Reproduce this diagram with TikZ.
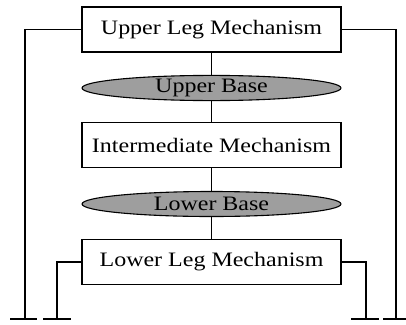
\documentclass[tikz,border=0pt]{standalone}
\usepackage{fontspec}
\setmainfont[FakeStretch=1.17]{Liberation Serif}
\usetikzlibrary{shapes.geometric}
\begin{document}
\begin{tikzpicture}[x=1pt,y=-1pt,
  mech/.style={draw, line width=1.3pt, minimum width=259pt, minimum height=45pt,
    inner sep=0pt, font=\fontsize{20.5}{24}\selectfont},
  basenode/.style={ellipse, draw, line width=1.1pt, fill=black!38,
    minimum width=259pt, minimum height=25pt, inner sep=0pt,
    font=\fontsize{20.5}{24}\selectfont},
  link/.style={line width=0.9pt},
  leg/.style={line width=1.8pt},
  inleg/.style={line width=1.3pt},
  ground/.style={line width=2pt}]
\useasboundingbox (0,0) rectangle (406,324);

% mechanism chain
\node[mech] (ul) at (211.5,29.5) {Upper Leg Mechanism};
\node[basenode] (ub) at (211.5,88) {Upper Base};
\node[mech] (im) at (211.5,145) {Intermediate Mechanism};
\node[basenode] (lb) at (211.5,204) {Lower Base};
\node[mech] (ll) at (211.5,262) {Lower Leg Mechanism};

\draw[link] (ul.south) -- (ub.north);
\draw[link] (ub.south) -- (im.north);
\draw[link] (im.south) -- (lb.north);
\draw[link] (lb.south) -- (ll.north);

% ground points
\coordinate (gOL) at (25,319);
\coordinate (gIL) at (57,319);
\coordinate (gIR) at (366,319);
\coordinate (gOR) at (396,319);

% upper leg supports
\draw[leg] (ul.west) -| (gOL);
\draw[leg] (ul.east) -| (gOR);
% lower leg supports
\draw[inleg] (ll.west) -| (gIL);
\draw[inleg] (ll.east) -| (gIR);

% ground bars
\draw[ground] (gOL) ++(-15,0) -- ++(27,0);
\draw[ground] (gIL) ++(-14,0) -- ++(28,0);
\draw[ground] (gIR) ++(-15,0) -- ++(28,0);
\draw[ground] (gOR) ++(-13,0) -- ++(23,0);
\end{tikzpicture}
\end{document}
